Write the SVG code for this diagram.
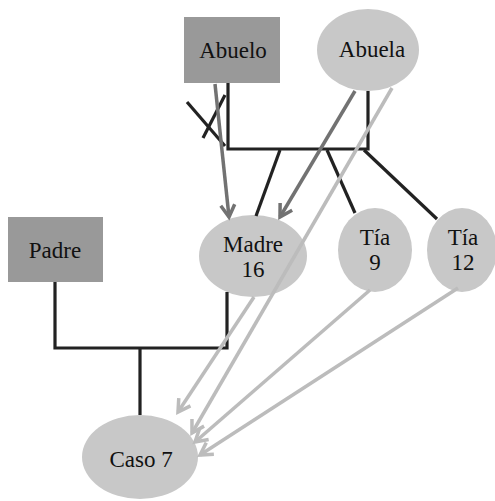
<svg xmlns="http://www.w3.org/2000/svg" width="495" height="501" viewBox="0 0 495 501">
<style>
.sq{fill:#999999}
.el{fill:#c8c8c8}
.t{font-family:"Liberation Serif","Times New Roman",serif;font-size:23px;fill:#111;text-anchor:middle}
.k{fill:none;stroke:#222;stroke-width:3.2}
.dg{fill:none;stroke:#727272;stroke-width:3.5}
.lg{fill:none;stroke:#bcbcbc;stroke-width:3.5}
</style>
<defs>
<marker id="ad" markerUnits="userSpaceOnUse" markerWidth="30" markerHeight="30" viewBox="-15 -15 30 30" refX="0" refY="0" orient="auto">
<path d="M-12,-7 L0,0 L-12,7" fill="none" stroke="#727272" stroke-width="3.5"/>
</marker>
<marker id="al" markerUnits="userSpaceOnUse" markerWidth="30" markerHeight="30" viewBox="-15 -15 30 30" refX="0" refY="0" orient="auto">
<path d="M-12,-7 L0,0 L-12,7" fill="none" stroke="#bcbcbc" stroke-width="3.5"/>
</marker>
</defs>
<g id="abuelo"><rect class="sq" x="184" y="17" width="96" height="66"/><text class="t" x="233" y="58">Abuelo</text></g>
<g id="abuela"><ellipse class="el" cx="368" cy="50" rx="51" ry="41"/><text class="t" x="372" y="57">Abuela</text></g>
<g id="padre"><rect class="sq" x="8" y="217" width="95" height="65"/><text class="t" x="55" y="258">Padre</text></g>
<g id="madre"><ellipse class="el" cx="253" cy="256" rx="54" ry="41"/><text class="t" x="253" y="252">Madre</text><text class="t" x="253" y="277">16</text></g>
<g id="tia9"><ellipse class="el" cx="375" cy="250" rx="37" ry="42"/><text class="t" x="375" y="245">Tía</text><text class="t" x="375" y="270">9</text></g>
<g id="tia12"><ellipse class="el" cx="462" cy="250" rx="35" ry="42"/><text class="t" x="463" y="245">Tía</text><text class="t" x="463" y="270">12</text></g>
<g id="caso7"><ellipse class="el" cx="140" cy="457" rx="58" ry="42"/><text class="t" x="141" y="467">Caso 7</text></g>
<g id="connectors">
<polyline class="k" points="228,83 228,149 368,149 368,91"/>
<line class="k" x1="280" y1="150" x2="256" y2="216"/>
<line class="k" x1="327" y1="150" x2="355" y2="213"/>
<line class="k" x1="364" y1="150" x2="437" y2="219"/>
<line class="k" x1="187" y1="102" x2="225" y2="146"/>
<line class="k" x1="225" y1="95" x2="203" y2="138"/>
<polyline class="k" points="55,282 55,348 227,348 227,292"/>
<line class="k" x1="140" y1="348" x2="140" y2="415"/>
<line class="dg" x1="215" y1="84" x2="229" y2="217" marker-end="url(#ad)"/>
<line class="dg" x1="355" y1="91" x2="280" y2="217" marker-end="url(#ad)"/>
<line class="lg" x1="254" y1="297" x2="178" y2="412" marker-end="url(#al)"/>
<line class="lg" x1="392" y1="88" x2="192" y2="433" marker-end="url(#al)"/>
<line class="lg" x1="370" y1="290" x2="195" y2="442" marker-end="url(#al)"/>
<line class="lg" x1="458" y1="288" x2="200" y2="455" marker-end="url(#al)"/>
</g>
</svg>
